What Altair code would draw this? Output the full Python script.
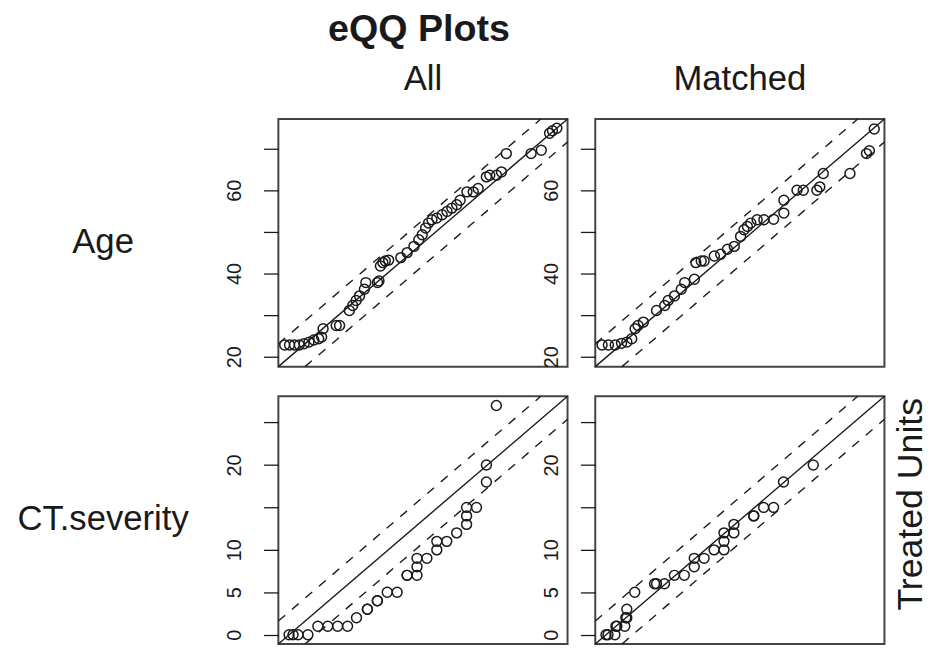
import altair as alt
import pandas as pd

FONT = "Liberation Sans"
INK = "#1a1a1a"

# ---- labels ----
variables = ["Age", "CT.severity"]
groups = ["All", "Matched"]
main_title = "eQQ Plots"
side_title = "Treated Units"

# ---- axis settings (data units) ----
age_domain = [17.6, 77.1]
ct_domain = [-1.08, 28.08]
age_ticks = [20, 30, 40, 50, 60, 70]
ct_ticks = [0, 5, 10, 15, 20, 25]
age_band = 5.5      # 10% of the range, dashed reference lines
ct_band = 2.7

# ---- eQQ points: control quantiles (x) vs treated quantiles (y) ----
age_all_ctrl = [18.9, 19.9, 20.9, 21.9, 22.9, 23.9, 24.9, 25.9, 26.5, 26.8,
                29.5, 30.2, 32.2, 32.9, 33.6, 34.3, 35.3, 35.6, 38.0, 38.3,
                38.6, 39.1, 39.6, 40.3, 42.8, 44.1, 45.5, 46.5, 47.2, 47.9,
                48.5, 49.2, 50.2, 51.3, 52.3, 53.3, 54.3, 55.0, 56.4, 57.7,
                58.7, 60.4, 61.1, 62.5, 63.5, 64.5, 69.6, 71.7, 73.4, 74.0, 74.9]
age_all_trt = [22.8, 22.8, 22.8, 22.8, 23.1, 23.5, 24.0, 24.3, 24.7, 26.7,
               27.5, 27.5, 31.1, 32.3, 33.5, 34.6, 36.2, 37.8, 37.8, 38.2,
               41.8, 42.6, 43.0, 43.2, 43.8, 45.0, 46.5, 48.1, 49.3, 50.9,
               52.1, 52.9, 53.3, 54.1, 54.9, 55.7, 56.5, 57.6, 59.6, 59.6,
               60.4, 63.2, 63.6, 63.6, 64.4, 68.8, 68.8, 69.6, 73.7, 74.3, 74.9]

age_m_ctrl = [19.0, 20.3, 21.7, 23.0, 24.1, 25.1, 25.8, 26.4, 27.5, 30.2,
              31.9, 32.6, 33.9, 35.3, 36.0, 38.0, 38.3, 39.4, 40.0, 42.1,
              43.4, 44.8, 46.2, 47.5, 48.2, 48.9, 49.6, 50.9, 52.3, 54.3,
              56.4, 56.4, 59.1, 60.4, 63.2, 63.8, 64.5, 70.0, 73.4, 74.0, 75.0]
age_m_trt = [22.8, 22.8, 22.8, 23.2, 23.5, 24.3, 26.7, 27.5, 28.3, 31.1,
             32.3, 33.5, 34.6, 36.2, 37.8, 38.6, 42.6, 43.0, 43.0, 44.2,
             44.6, 45.8, 46.5, 48.9, 50.5, 51.3, 52.1, 52.9, 52.9, 53.0,
             54.5, 57.6, 60.0, 60.0, 60.0, 60.8, 64.0, 64.0, 68.8, 69.5, 74.7]

ct_all_ctrl = [0.0, 0.4, 0.9, 1.9, 2.9, 3.9, 4.9, 5.9, 6.8, 7.9,
               7.9, 8.9, 8.9, 9.9, 10.9, 11.9, 11.9, 12.9, 12.9, 12.9,
               13.9, 14.9, 14.9, 15.9, 16.9, 17.9, 17.9, 17.9, 18.9, 19.9,
               19.9, 20.9]
ct_all_trt = [0, 0, 0, 0, 1, 1, 1, 1, 2, 3,
              3, 4, 4, 5, 5, 7, 7, 7, 8, 9,
              9, 10, 11, 11, 12, 13, 14, 15, 15, 18,
              20, 27]

ct_m_ctrl = [0.0, 0.2, 0.9, 1.0, 1.1, 1.9, 2.0, 2.1, 2.1, 2.9,
             4.9, 5.1, 5.9, 6.9, 7.9, 8.9, 8.9, 9.9, 10.9, 11.9,
             11.9, 11.9, 12.9, 12.9, 14.9, 14.9, 15.9, 16.9, 17.9, 20.9]
ct_m_trt = [0, 0, 0, 1, 1, 1, 2, 2, 3, 5,
            6, 6, 6, 7, 7, 8, 9, 9, 10, 10,
            11, 12, 12, 13, 14, 14, 15, 15, 18, 20]

PANEL_W = 292
PANEL_H = 250
LABEL_W = 244
SIDE_W = 2


def panel(ctrl, trt, domain, ticks, label_expr, band, title=None):
    pts = pd.DataFrame({"ctrl": ctrl, "trt": trt})
    lo, hi = domain
    # reference lines y = x and y = x +/- band, cut at the panel's edges
    lines = pd.DataFrame({
        "ctrl": [lo, hi, lo, hi - band, lo + band, hi],
        "trt": [lo, hi, lo + band, hi, lo, hi - band],
        "kind": ["equal", "equal", "upper", "upper", "lower", "lower"],
    })
    scale = alt.Scale(domain=domain, nice=False, zero=False)
    yaxis = alt.Axis(
        values=ticks, labelExpr=label_expr, labelOverlap=False,
        labelAngle=270, labelAlign="center", labelBaseline="alphabetic",
        labelFont=FONT, labelFontSize=20, labelColor=INK, labelPadding=23,
        tickSize=15, tickColor=INK, tickWidth=1.3,
        domain=False, grid=False, title=None,
    )
    x = alt.X("ctrl:Q", scale=scale, axis=None)
    y = alt.Y("trt:Q", scale=scale, axis=yaxis)
    solid = (
        alt.Chart(lines)
        .transform_filter(alt.datum.kind == "equal")
        .mark_line(color=INK, strokeWidth=1.4)
        .encode(x=x, y=y, detail="kind:N")
    )
    dashed = (
        alt.Chart(lines)
        .transform_filter(alt.datum.kind != "equal")
        .mark_line(color=INK, strokeWidth=1.4, strokeDash=[9, 9])
        .encode(x=x, y=y, detail="kind:N")
    )
    points = (
        alt.Chart(pts)
        .mark_point(shape="circle", filled=False, size=100, strokeWidth=1.5,
                    color=INK, opacity=1)
        .encode(x=x, y=y)
    )
    chart = alt.layer(solid, dashed, points).properties(width=PANEL_W, height=PANEL_H)
    if title:
        chart = chart.properties(title=alt.TitleParams(
            title, font=FONT, fontSize=35, fontWeight="normal", color=INK,
            offset=25, dy=33, baseline="alphabetic", anchor="middle"))
    return chart


def row_label(text):
    return (
        alt.Chart(pd.DataFrame({"label": [text]}))
        .mark_text(font=FONT, fontSize=35, align="center", baseline="alphabetic", color=INK)
        .encode(text="label:N", x=alt.value(95), y=alt.value(135))
        .properties(width=LABEL_W, height=PANEL_H,
                    view=alt.ViewBackground(stroke="transparent"))
    )


def side_label(text):
    return (
        alt.Chart(pd.DataFrame({"label": [text]}))
        .mark_text(font=FONT, fontSize=36, align="center", baseline="alphabetic",
                   angle=270, color=INK)
        .encode(text="label:N", x=alt.value(10), y=alt.value(109))
        .properties(width=SIDE_W, height=PANEL_H,
                    view=alt.ViewBackground(stroke="transparent"))
    )


def blank():
    return (
        alt.Chart(pd.DataFrame({"label": [""]}))
        .mark_text()
        .encode(text="label:N")
        .properties(width=SIDE_W, height=PANEL_H,
                    view=alt.ViewBackground(stroke="transparent"))
    )


age_expr = "datum.value % 20 == 0 ? datum.label : ''"
ct_expr = "(datum.value == 15 || datum.value == 25) ? '' : datum.label"

cells = [
    row_label(variables[0]),
    panel(age_all_ctrl, age_all_trt, age_domain, age_ticks, age_expr, age_band, groups[0]),
    panel(age_m_ctrl, age_m_trt, age_domain, age_ticks, age_expr, age_band, groups[1]),
    blank(),
    row_label(variables[1]),
    panel(ct_all_ctrl, ct_all_trt, ct_domain, ct_ticks, ct_expr, ct_band),
    panel(ct_m_ctrl, ct_m_trt, ct_domain, ct_ticks, ct_expr, ct_band),
    side_label(side_title),
]

chart = (
    alt.concat(*cells, columns=4, spacing={"row": 30, "column": 28}, bounds="flush")
    .properties(
        title=alt.TitleParams(main_title, font=FONT, fontSize=38, fontWeight="bold",
                              color=INK, anchor="start", align="center", dx=415,
                              offset=25, dy=43, baseline="alphabetic"),
        padding={"top": 0, "left": 0, "right": 0, "bottom": 0},
        background="white",
    )
    .configure_view(stroke="#444444", strokeWidth=2)
)

chart.save("out.html", embed_options={"renderer": "svg", "actions": False})
